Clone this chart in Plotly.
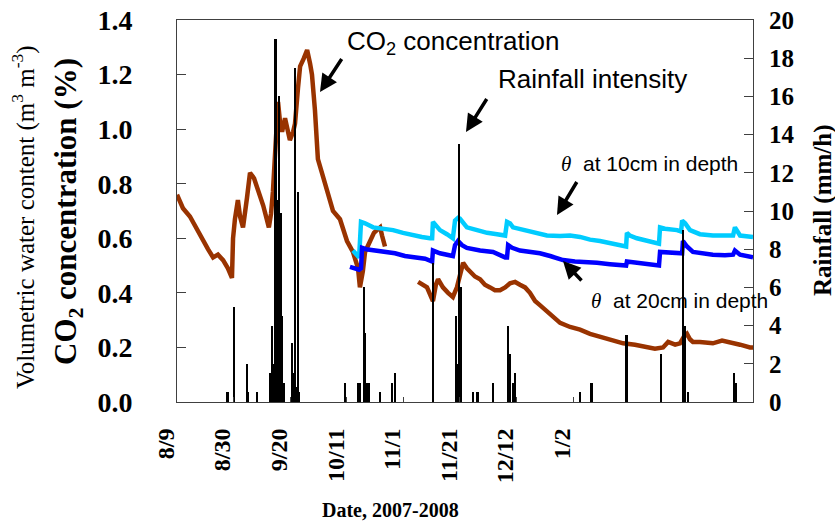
import plotly.graph_objects as go

# x values are days since 8/9/2007
tick_days = [0, 21, 42, 63, 84, 105, 126, 147]
tick_labels = ["8/9", "8/30", "9/20", "10/11", "11/1", "11/21", "12/12", "1/2"]

co2_days = [0, 2.2, 4.8, 7.4, 9.7, 11.5, 13.4, 15.2, 17.1, 18.9, 20.4, 20.8, 21.5, 22.6, 23.4,
            24.5, 26.0, 27.1, 28.6, 29.7, 32.0, 34.1, 34.9, 35.6, 36.4, 36.7, 37.5, 38.2, 39.0,
            40.1, 41.2, 41.9, 43.1, 43.8, 44.9, 45.7, 47.1, 48.3, 49.4, 50.1, 51.2, 52.3, 53.8,
            55.7, 57.9, 60.5, 63.1, 65.3, 67.2, 67.9, 69.0, 69.8, 71.6, 73.1, 74.2, 75.4, 76.1, 77.2,
            None,
            89.5, 91.3, 92.8, 95.0, 96.1, 96.9, 98.7, 100.6, 102.4, 103.9, 105.0, 106.2, 107.6,
            108.8, 110.6, 112.5, 114.3, 116.2, 118.0, 119.9, 121.8, 123.6, 125.5, 127.3, 129.2,
            131.0, 132.9, 134.7, 138.5, 142.2, 145.9, 149.6, 153.3, 157.0, 160.7, 165.6, 170.0,
            174.5, 177.4, 180.4, 182.3, 184.9, 186.7, 188.2, 189.3, 190.4, 191.5, 194.1, 198.9,
            202.3, 205.3, 209.0, 212.7, 213.8]
co2_pct = [0.76, 0.71, 0.68, 0.63, 0.59, 0.56, 0.53, 0.54, 0.52, 0.49, 0.455, 0.60, 0.67, 0.74, 0.68,
           0.64, 0.75, 0.84, 0.82, 0.79, 0.72, 0.64, 0.69, 0.77, 0.90, 0.98, 1.10, 1.03, 0.99,
           1.04, 0.98, 0.96, 0.99, 1.02, 1.15, 1.23, 1.26, 1.29, 1.24, 1.20, 1.07, 0.89, 0.84,
           0.77, 0.70, 0.67, 0.59, 0.55, 0.49, 0.42, 0.48, 0.55, 0.59, 0.62, 0.63, 0.64, 0.61, 0.57,
           None,
           0.44, 0.43, 0.42, 0.37, 0.43, 0.45, 0.42, 0.40, 0.385, 0.42, 0.47, 0.51, 0.49,
           0.48, 0.46, 0.45, 0.43, 0.42, 0.41, 0.41, 0.42, 0.435, 0.44, 0.43, 0.42,
           0.40, 0.37, 0.355, 0.32, 0.29, 0.275, 0.265, 0.25, 0.24, 0.23, 0.215, 0.21,
           0.20, 0.195, 0.20, 0.22, 0.21, 0.215, 0.24, 0.25, 0.23, 0.22, 0.22, 0.215,
           0.225, 0.22, 0.21, 0.20, 0.20]

theta10_days = [65.3, 66.4, 67.6, 68.3, 69.8, 72.8, 76.5, 80.2, 83.9, 87.6, 90.9, 93.9, 94.7, 95.0,
                96.1, 97.6, 100.2, 102.4, 103.2, 104.3, 105.0, 106.2, 107.6, 111.4, 115.1, 118.8,
                121.8, 122.5, 123.6, 124.7, 129.2, 132.9, 137.3, 142.2, 145.9, 149.6, 153.3, 157.0,
                161.8, 165.6, 166.7, 167.0, 168.1, 170.7, 174.5, 178.2, 178.9, 179.3, 181.1, 185.6,
                187.1, 187.5, 188.6, 190.4, 194.1, 198.9, 203.4, 206.4, 207.1, 207.9, 209.0, 213.8]
theta10 = [0.555, 0.545, 0.53, 0.66, 0.655, 0.64, 0.635, 0.63, 0.62, 0.61, 0.605, 0.60, 0.60, 0.66,
           0.645, 0.63, 0.615, 0.60, 0.665, 0.675, 0.672, 0.655, 0.64, 0.63, 0.62, 0.615,
           0.61, 0.66, 0.655, 0.64, 0.63, 0.62, 0.61, 0.608, 0.61, 0.605, 0.595, 0.59,
           0.58, 0.57, 0.57, 0.62, 0.61, 0.60, 0.59, 0.58, 0.58, 0.64, 0.635, 0.63,
           0.625, 0.665, 0.655, 0.63, 0.615, 0.61, 0.61, 0.61, 0.64, 0.63, 0.61, 0.605]

theta20_days = [64.2, 66.1, 67.6, 68.3, 68.7, 70.2, 73.5, 77.2, 80.9, 84.6, 88.3, 92.1, 94.7, 95.0,
                97.6, 100.2, 102.4, 103.2, 104.3, 105.8, 107.6, 112.5, 117.3, 121.8, 122.5, 122.9,
                124.4, 127.3, 131.0, 134.7, 138.5, 143.3, 147.7, 152.2, 155.9, 160.7, 165.6, 166.7,
                167.0, 171.9, 175.9, 178.2, 178.9, 179.3, 183.0, 186.7, 187.5, 187.8, 189.3, 191.5,
                194.1, 198.9, 203.4, 206.4, 207.1, 209.0, 213.8]
theta20 = [0.495, 0.49, 0.485, 0.49, 0.565, 0.56, 0.555, 0.55, 0.545, 0.535, 0.53, 0.525, 0.515, 0.555,
           0.545, 0.54, 0.535, 0.575, 0.59, 0.575, 0.565, 0.555, 0.55, 0.53, 0.53, 0.575,
           0.565, 0.555, 0.55, 0.545, 0.535, 0.52, 0.515, 0.51, 0.51, 0.505, 0.50, 0.50,
           0.515, 0.51, 0.505, 0.50, 0.50, 0.55, 0.548, 0.545, 0.545, 0.59, 0.57, 0.55,
           0.545, 0.54, 0.538, 0.54, 0.555, 0.54, 0.53]

rain_days = [18.9, 21.2, 26.0, 26.4, 29.7, 34.5, 35.3, 36.0, 36.7, 37.1, 37.9, 38.6, 39.0, 39.7,
             42.7, 43.1, 43.8, 44.2, 44.9, 45.3, 62.4, 67.2, 67.9, 69.4, 69.8, 70.5, 71.3, 75.4,
             79.8, 80.9, 95.0, 103.6, 104.3, 104.7, 105.4, 109.9, 111.7, 117.3, 122.9, 123.6,
             124.7, 125.5, 149.6, 154.0, 167.0, 179.7, 187.8, 188.6, 189.7, 206.8, 207.5]
rain_mmh = [0.5, 5.0, 2.0, 0.5, 0.5, 1.5, 4.0, 2.0, 19.0, 10.6, 16.0, 9.9, 4.5, 1.0,
            3.1, 1.5, 17.5, 0.8, 11.0, 0.5, 1.0, 1.0, 1.0, 6.0, 3.6, 1.0, 1.0, 0.5,
            1.0, 1.5, 7.3, 4.5, 2.0, 13.5, 6.0, 0.5, 0.5, 1.0, 4.0, 2.5,
            1.0, 1.5, 0.5, 1.0, 3.5, 2.5, 9.0, 4.0, 0.5, 1.5, 1.0]

X0, X1 = 0, 213.8

fig = go.Figure()
fig.add_trace(go.Scatter(x=co2_days, y=co2_pct, mode="lines", connectgaps=False,
                         line=dict(color="#993300", width=4.5), showlegend=False))
fig.add_trace(go.Scatter(x=theta10_days, y=theta10, mode="lines",
                         line=dict(color="#00CCFF", width=4.5), showlegend=False))
fig.add_trace(go.Scatter(x=theta20_days, y=theta20, mode="lines",
                         line=dict(color="#0000FF", width=4.5), showlegend=False))
fig.add_trace(go.Bar(x=rain_days, y=rain_mmh, width=0.7, yaxis="y2",
                     marker=dict(color="black", line=dict(width=0)), showlegend=False))

serif = "Liberation Serif"
sans = "Liberation Sans"
axcol = "#404040"

fig.update_layout(
    template="none",
    width=835, height=524,
    margin=dict(l=177, r=82, t=20, b=122, pad=0),
    paper_bgcolor="white", plot_bgcolor="white",
    bargap=0,
    xaxis=dict(range=[X0, X1], tickvals=tick_days, ticktext=tick_labels, tickangle=-90,
               tickfont=dict(family=serif, size=24, color="black", weight="bold"),
               ticks="inside", ticklen=5, tickcolor=axcol, automargin=False,
               showline=True, linecolor=axcol, linewidth=1, mirror=True,
               showgrid=False, zeroline=False, ticklabelstandoff=16, ticklabelshift=-11),
    yaxis=dict(range=[0, 1.4], dtick=0.2, tickformat=".1f", automargin=False,
               tickfont=dict(family=serif, size=28, color="black", weight="bold"),
               ticks="inside", ticklen=9, tickcolor=axcol,
               showline=True, linecolor=axcol, linewidth=1, mirror=True,
               showgrid=False, zeroline=False, ticklabelstandoff=38),
    yaxis2=dict(range=[0, 20], dtick=2, overlaying="y", side="right", automargin=False,
                tickfont=dict(family=serif, size=25, color="black", weight="bold"),
                ticks="inside", ticklen=9, tickcolor=axcol,
                showline=True, linecolor=axcol, linewidth=1,
                showgrid=False, zeroline=False, ticklabelstandoff=10),
)

def px_x(p):
    return (p - 177) / 576.0

def px_y(p):
    return (402 - p) / 382.0

ann = []
# axis titles
ann.append(dict(text="Volumetric water content (m<sup>3</sup> m<sup>-3</sup>)", textangle=-90,
                x=px_x(23), y=px_y(217), xref="paper", yref="paper", showarrow=False,
                xanchor="center", yanchor="middle",
                font=dict(family=serif, size=25, color="black")))
ann.append(dict(text="<b>CO<sub>2</sub> concentration (%)</b>", textangle=-90,
                x=px_x(68), y=px_y(212), xref="paper", yref="paper", showarrow=False,
                xanchor="center", yanchor="middle",
                font=dict(family=serif, size=31, color="black")))
ann.append(dict(text="<b>Rainfall (mm/h)</b>", textangle=-90,
                x=px_x(823), y=px_y(210), xref="paper", yref="paper", showarrow=False,
                xanchor="center", yanchor="middle",
                font=dict(family=serif, size=25, color="black")))
ann.append(dict(text="<b>Date, 2007-2008</b>",
                x=px_x(390), y=px_y(510), xref="paper", yref="paper", showarrow=False,
                xanchor="center", yanchor="middle",
                font=dict(family=serif, size=20, color="black")))
# in-plot labels
ann.append(dict(text="CO<sub>2</sub> concentration",
                x=px_x(345), y=px_y(42), xref="paper", yref="paper", showarrow=False,
                xanchor="left", yanchor="middle",
                font=dict(family=sans, size=26, color="black")))
ann.append(dict(text="Rainfall intensity",
                x=px_x(496), y=px_y(79), xref="paper", yref="paper", showarrow=False,
                xanchor="left", yanchor="middle",
                font=dict(family=sans, size=26, color="black")))
theta = '<span style="font-family:Liberation Serif"><i>θ</i></span>'
ann.append(dict(text=theta + "\u00a0\u00a0at 10cm in depth",
                x=px_x(559), y=px_y(164), xref="paper", yref="paper", showarrow=False,
                xanchor="left", yanchor="middle",
                font=dict(family=sans, size=21, color="black")))
ann.append(dict(text=theta + "\u00a0\u00a0at 20cm in depth",
                x=px_x(589), y=px_y(301), xref="paper", yref="paper", showarrow=False,
                xanchor="left", yanchor="middle",
                font=dict(family=sans, size=21, color="black")))
# arrows drawn as shapes (line) with annotation heads: use annotation arrows with a tiny label
for hx, hy, ax, ay in [(320, 92, 23, -35), (466, 132, 22, -35), (557, 215, 21, -35), (563, 261, 20, 21)]:
    ann.append(dict(text="\u00a0", x=px_x(hx), y=px_y(hy), xref="paper", yref="paper",
                    showarrow=True, ax=ax, ay=ay, axref="pixel", ayref="pixel",
                    arrowhead=2, arrowsize=1, arrowwidth=3.5, arrowcolor="black",
                    standoff=0, startstandoff=0, font=dict(size=1)))
fig.update_layout(annotations=ann)

fig.write_html("out.html", config={"displayModeBar": False},
               post_script="document.body.style.margin='0';")
